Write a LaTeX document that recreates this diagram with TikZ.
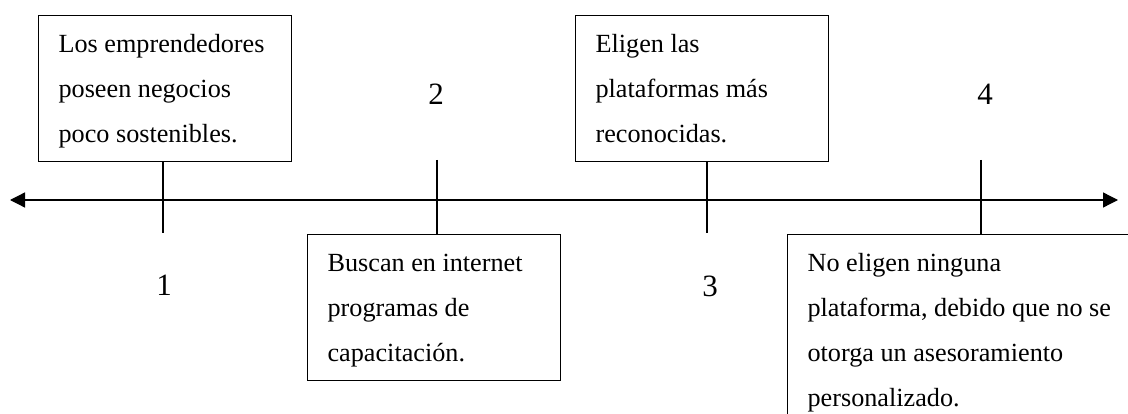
\documentclass[tikz,border=0pt]{standalone}
\usepackage{fontspec}
\setmainfont{Liberation Serif}
\usetikzlibrary{arrows.meta}
\tikzset{
  caja/.style={draw, line width=1.2pt, anchor=north west, align=flush left,
    text width=213pt, inner xsep=20pt, inner ysep=0pt,
    text height=37pt, text depth=109pt,
    font=\fontsize{26.2}{45}\selectfont},
  numero/.style={anchor=base, font=\fontsize{31}{36}\selectfont},
  marca/.style={line width=1.2pt}
}
\begin{document}
\begin{tikzpicture}[x=1pt, y=-1pt]
     \useasboundingbox (0,0) rectangle (1128,414);
     % eje
     \coordinate (izq) at (10,200);
     \coordinate (der) at (1118,200);
     \draw[line width=1.3pt, {Triangle[length=15pt,width=15pt]}-{Triangle[length=15pt,width=15pt]}] (izq) -- (der);
     % cajas
     \node[caja] (caja1) at (38,15) {Los emprendedores\\poseen negocios\\poco sostenibles.};
     \node[caja] (caja2) at (307,234) {Buscan en internet\\programas de\\capacitaci\'on.};
     \node[caja] (caja3) at (575,15) {Eligen las\\plataformas m\'as\\reconocidas.};
     \node[caja, text width=340pt, text depth=160pt] (caja4) at (787,234) {No eligen ninguna\\plataforma, debido que no se\\otorga un asesoramiento\\personalizado.};
     % marcas
     \coordinate (t1) at (163,233);
     \coordinate (t2) at (437,160);
     \coordinate (t3) at (707,233);
     \coordinate (t4) at (981,160);
     \draw[marca] (t1 |- caja1.south) -- (t1);
     \draw[marca] (t2) -- (t2 |- caja2.north);
     \draw[marca] (t3 |- caja3.south) -- (t3);
     \draw[marca] (t4) -- (t4 |- caja4.north);
     % numeros
     \node[numero] (n1) at (164,296) {1};
     \node[numero] (n2) at (436,105) {2};
     \node[numero] (n3) at (710,297) {3};
     \node[numero] (n4) at (985,105) {4};
\end{tikzpicture}
\end{document}
